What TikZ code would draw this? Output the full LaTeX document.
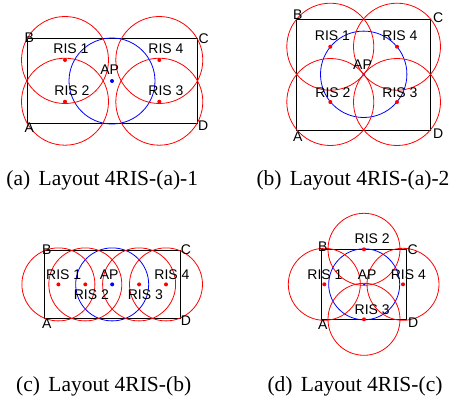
\documentclass[tikz,border=0pt]{standalone}
\usepackage{fontspec}
\setmainfont{Liberation Serif}
\newfontfamily\lblfont{Liberation Sans}
\begin{document}
\begin{tikzpicture}[x=1pt,y=-1pt,
  room/.style={draw=black,line width=0.8pt},
  apcirc/.style={draw=blue,line width=0.8pt},
  riscirc/.style={draw=red,line width=0.8pt},
  risdot/.style={circle,fill=red,inner sep=0pt,minimum size=4pt},
  apdot/.style={circle,fill=blue,inner sep=0pt,minimum size=4pt},
  apdotsmall/.style={circle,fill=blue,inner sep=0pt,minimum size=2.5pt},
  lbl/.style={inner sep=0pt,font=\lblfont\fontsize{14}{16}\selectfont},
  subcap/.style={inner sep=0pt,anchor=base,font=\fontsize{21.5}{24}\selectfont}]
\useasboundingbox (0,0) rectangle (451,397);
% ---------- (a) ----------
\draw[room] (27.3,38.3) rectangle (197.3,123.3);
\draw[apcirc] (112,81) circle (43);
\node[apdot] (aAP) at (112,81) {};
\foreach \p in {(65,60),(65,101.7),(159.3,60),(159.3,101.7)} \draw[riscirc] \p circle (43.5);
\node[risdot] (aR1) at (65,60) {};
\node[risdot] (aR2) at (65,101.7) {};
\node[risdot] (aR4) at (159.3,60) {};
\node[risdot] (aR3) at (159.3,101.7) {};
\node[lbl] (aL1) at (71,48.3) {RIS 1};
\node[lbl] (aL2) at (72,90.5) {RIS 2};
\node[lbl] (aL4) at (166,48.3) {RIS 4};
\node[lbl] (aL3) at (166,90.5) {RIS 3};
\node[lbl] (aLAP) at (109.7,69.7) {AP};
\node[lbl] (aB) at (29.3,37.3) {B};
\node[lbl] (aC) at (203.7,38.7) {C};
\node[lbl] (aA) at (29.3,127.7) {A};
\node[lbl] (aD) at (203.3,126) {D};
\node[subcap] (capa) at (102.3,185.7) {(a)\hspace{0.39em}Layout 4RIS-(a)-1};
% ---------- (b) ----------
\draw[room] (296.7,19) rectangle (430,130);
\draw[apcirc] (363.7,74.3) circle (43.2);
\node[apdotsmall] (bAP) at (363.7,74.3) {};
\foreach \p in {(330.3,46.7),(397,46.7),(330.3,102),(397,102)} \draw[riscirc] \p circle (43.5);
\node[risdot] (bR1) at (330.3,46.7) {};
\node[risdot] (bR4) at (397,46.7) {};
\node[risdot] (bR2) at (330.3,102) {};
\node[risdot] (bR3) at (397,102) {};
\node[lbl] (bL1) at (332.5,36) {RIS 1};
\node[lbl] (bL4) at (400,36) {RIS 4};
\node[lbl] (bL2) at (333,92.7) {RIS 2};
\node[lbl] (bL3) at (400,92.7) {RIS 3};
\node[lbl] (bLAP) at (362.5,64.7) {AP};
\node[lbl] (bB) at (297.7,15) {B};
\node[lbl] (bC) at (438.3,17.3) {C};
\node[lbl] (bA) at (297.7,136.7) {A};
\node[lbl] (bD) at (438.3,134) {D};
\node[subcap] (capb) at (353,185.7) {(b)\hspace{0.39em}Layout 4RIS-(a)-2};
% ---------- (c) ----------
\draw[room] (44.3,250.7) rectangle (180,318.3);
\draw[apcirc] (112.2,284.4) circle (36.5);
\node[apdot] (cAP) at (112.2,284.4) {};
\foreach \x in {58.4,85.3,139.1,166.0} \draw[riscirc] (\x,284.4) circle (36.5);
\node[risdot] (cR1) at (58.4,284.4) {};
\node[risdot] (cR2) at (85.3,284.4) {};
\node[risdot] (cR3) at (139.1,284.4) {};
\node[risdot] (cR4) at (166.0,284.4) {};
\node[lbl] (cL1) at (63.7,274.5) {RIS 1};
\node[lbl] (cL2) at (91.3,294.7) {RIS 2};
\node[lbl] (cLAP) at (109.2,274.5) {AP};
\node[lbl] (cL3) at (145.3,294.7) {RIS 3};
\node[lbl] (cL4) at (172,274.5) {RIS 4};
\node[lbl] (cB) at (46.7,250) {B};
\node[lbl] (cC) at (186,250) {C};
\node[lbl] (cA) at (46.7,323.3) {A};
\node[lbl] (cD) at (186,320.7) {D};
\node[subcap] (capc) at (103.7,391.7) {(c)\hspace{0.39em}Layout 4RIS-(b)};
% ---------- (d) ----------
\draw[room] (321.7,249.3) rectangle (406.7,319.3);
\draw[apcirc] (364.2,284.3) circle (35.5);
\node[apdotsmall] (dAP) at (364.2,284.3) {};
\foreach \p in {(364,249.3),(364,319.3),(324.3,284.3),(403,284.3)} \draw[riscirc] \p circle (36);
\node[risdot] (dR2) at (364,249.3) {};
\node[risdot] (dR3) at (364,319.3) {};
\node[risdot] (dR1) at (324.3,284.3) {};
\node[risdot] (dR4) at (403,284.3) {};
\node[lbl] (dL2) at (372.2,238.7) {RIS 2};
\node[lbl] (dL1) at (325,274.7) {RIS 1};
\node[lbl] (dLAP) at (367.2,274.7) {AP};
\node[lbl] (dL4) at (408.3,274.7) {RIS 4};
\node[lbl] (dL3) at (372.2,309.7) {RIS 3};
\node[lbl] (dB) at (322.7,246.7) {B};
\node[lbl] (dC) at (412.7,250) {C};
\node[lbl] (dA) at (322.7,324.3) {A};
\node[lbl] (dD) at (413.3,322.3) {D};
\node[subcap] (capd) at (355,391.7) {(d)\hspace{0.39em}Layout 4RIS-(c)};
\end{tikzpicture}
\end{document}
